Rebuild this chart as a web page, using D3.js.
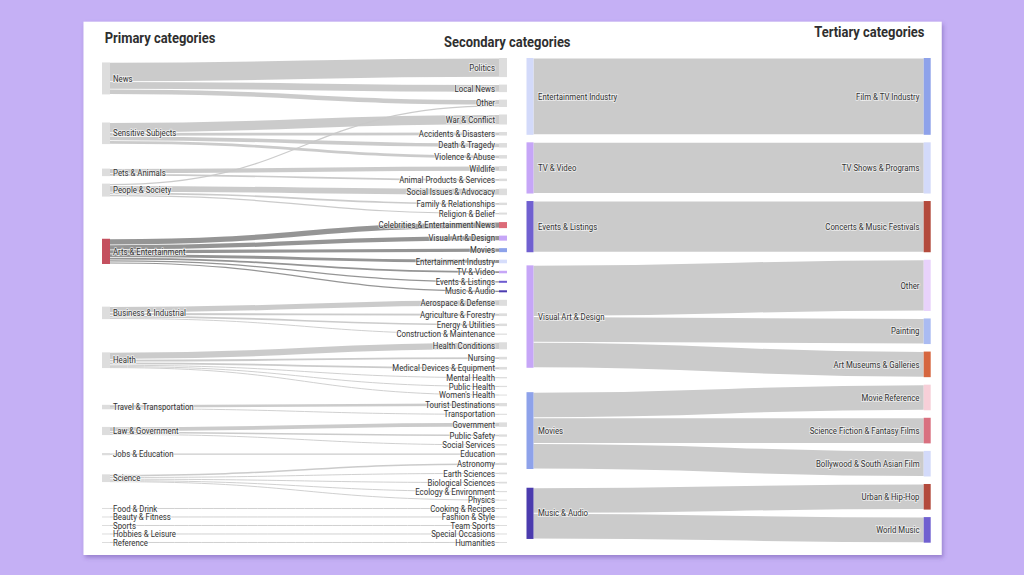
<!DOCTYPE html>
<html><head><meta charset="utf-8">
<script src="https://cdn.jsdelivr.net/npm/d3@7"></script>
<style>
html,body{margin:0;padding:0;background:#c5b0f5;}
svg{display:block;}
text{font-family:Roboto,"Noto Sans",sans-serif;}
</style></head><body>
<svg id="chart" width="1024" height="575"></svg>
<script>
// ---------------- DATA ----------------
const titles = ["Primary categories", "Secondary categories", "Tertiary categories"];

const primaryCategories = ["News","Sensitive Subjects","Pets & Animals","People & Society","Arts & Entertainment",
  "Business & Industrial","Health","Travel & Transportation","Law & Government","Jobs & Education","Science",
  "Food & Drink","Beauty & Fitness","Sports","Hobbies & Leisure","Reference"];

const secondaryCategories = ["Politics","Local News","Other","War & Conflict","Accidents & Disasters","Death & Tragedy",
  "Violence & Abuse","Wildlife","Animal Products & Services","Social Issues & Advocacy","Family & Relationships",
  "Religion & Belief","Celebrities & Entertainment News","Visual Art & Design","Movies","Entertainment Industry",
  "TV & Video","Events & Listings","Music & Audio","Aerospace & Defense","Agriculture & Forestry","Energy & Utilities",
  "Construction & Maintenance","Health Conditions","Nursing","Medical Devices & Equipment","Mental Health",
  "Public Health","Women's Health","Tourist Destinations","Transportation","Government","Public Safety",
  "Social Services","Education","Astronomy","Earth Sciences","Biological Sciences","Ecology & Environment",
  "Physics","Cooking & Recipes","Fashion & Style","Team Sports","Special Occasions","Humanities"];

// [primary, secondary, value]
const primaryToSecondary = [
  ["News","Politics",19],["News","Local News",7.5],["News","Other",5.3],
  ["Sensitive Subjects","War & Conflict",10],["Sensitive Subjects","Accidents & Disasters",3.5],
  ["Sensitive Subjects","Death & Tragedy",4.5],["Sensitive Subjects","Violence & Abuse",3.5],
  ["Pets & Animals","Wildlife",5],["Pets & Animals","Animal Products & Services",2.5],
  ["People & Society","Other",2],["People & Society","Social Issues & Advocacy",6.5],
  ["People & Society","Family & Relationships",2.4],["People & Society","Religion & Belief",2],
  ["Arts & Entertainment","Celebrities & Entertainment News",6],["Arts & Entertainment","Visual Art & Design",5],
  ["Arts & Entertainment","Movies",4],["Arts & Entertainment","Entertainment Industry",3.6],
  ["Arts & Entertainment","TV & Video",2.5],["Arts & Entertainment","Events & Listings",2],
  ["Arts & Entertainment","Music & Audio",2],
  ["Business & Industrial","Aerospace & Defense",6],["Business & Industrial","Agriculture & Forestry",2.7],
  ["Business & Industrial","Energy & Utilities",2.5],["Business & Industrial","Construction & Maintenance",1.2],
  ["Health","Health Conditions",7],["Health","Nursing",2.6],["Health","Medical Devices & Equipment",2.6],
  ["Health","Mental Health",1.3],["Health","Public Health",1.2],["Health","Women's Health",0.9],
  ["Travel & Transportation","Tourist Destinations",3.3],["Travel & Transportation","Transportation",1.1],
  ["Law & Government","Government",4.5],["Law & Government","Public Safety",2.3],["Law & Government","Social Services",1.3],
  ["Jobs & Education","Education",2.2],
  ["Science","Astronomy",2.3],["Science","Earth Sciences",1.7],["Science","Biological Sciences",1.7],
  ["Science","Ecology & Environment",1.2],["Science","Physics",0.8],
  ["Food & Drink","Cooking & Recipes",1],["Beauty & Fitness","Fashion & Style",1],["Sports","Team Sports",1],
  ["Hobbies & Leisure","Special Occasions",1],["Reference","Humanities",1]
];

const focusCategories = ["Entertainment Industry","TV & Video","Events & Listings","Visual Art & Design","Movies","Music & Audio"];

const tertiaryCategories = ["Film & TV Industry","TV Shows & Programs","Concerts & Music Festivals","Other","Painting",
  "Art Museums & Galleries","Movie Reference","Science Fiction & Fantasy Films","Bollywood & South Asian Film",
  "Urban & Hip-Hop","World Music"];

// [secondary, tertiary, value]
const secondaryToTertiary = [
  ["Entertainment Industry","Film & TV Industry",3],
  ["TV & Video","TV Shows & Programs",2],
  ["Events & Listings","Concerts & Music Festivals",2],
  ["Visual Art & Design","Other",2],["Visual Art & Design","Painting",1],["Visual Art & Design","Art Museums & Galleries",1],
  ["Movies","Movie Reference",1],["Movies","Science Fiction & Fantasy Films",1],["Movies","Bollywood & South Asian Film",1],
  ["Music & Audio","Urban & Hip-Hop",1],["Music & Audio","World Music",1]
];

// ---------------- STYLE ----------------
const highlightSource = "Arts & Entertainment";
const leftColors = {
  "Arts & Entertainment":"#c4505f","Celebrities & Entertainment News":"#dc6b78","Visual Art & Design":"#c6a6f7",
  "Movies":"#8da2ea","Entertainment Industry":"#d6ddfb","TV & Video":"#c6a6f7","Events & Listings":"#6e5bd0",
  "Music & Audio":"#4b3bb0"
};
const rightColorsL = {"Entertainment Industry":"#d3dafa","TV & Video":"#c6a6f7","Events & Listings":"#7060d0",
  "Visual Art & Design":"#c6a6f7","Movies":"#8ea2ea","Music & Audio":"#4b3bae"};
const rightColorsR = {"Film & TV Industry":"#8ea2ea","TV Shows & Programs":"#d3dafa","Concerts & Music Festivals":"#b34a3c",
  "Other":"#e8d2fb","Painting":"#aabbf2","Art Museums & Galleries":"#d6663f","Movie Reference":"#f7cfd8",
  "Science Fiction & Fantasy Films":"#d9707f","Bollywood & South Asian Film":"#d3dafa","Urban & Hip-Hop":"#b34a3c",
  "World Music":"#7060d0"};

// ---------------- LAYOUT ----------------
function layoutSankey(leftNames, rightNames, links, o) {
  const L = leftNames.map(n => ({name:n, out:[], inn:[]}));
  const R = rightNames.map(n => ({name:n, out:[], inn:[]}));
  const mL = new Map(L.map(d => [d.name, d])), mR = new Map(R.map(d => [d.name, d]));
  const ls = links.map(([s,t,v]) => {
    const l = {source:mL.get(s), target:mR.get(t), value:v};
    l.source.out.push(l); l.target.inn.push(l); return l;
  });
  L.forEach(n => n.value = d3.sum(n.out, l => l.value));
  R.forEach(n => n.value = d3.sum(n.inn, l => l.value));
  const packLeft = o.packed === "left";
  const packed = packLeft ? L : R, relaxed = packLeft ? R : L;
  const total = d3.sum(packed, d => d.value);
  const ky = d3.scaleLinear().domain([0, total]).range([0, (o.y1 - o.y0) - (packed.length - 1) * o.pad]);
  let y = o.y0;
  packed.forEach(n => { n.y0 = y; n.y1 = y + ky(n.value); y = n.y1 + o.pad; });
  relaxed.forEach(n => {
    const lk = packLeft ? n.inn : n.out;
    const other = l => packLeft ? l.source : l.target;
    const c = d3.sum(lk, l => l.value * (other(l).y0 + other(l).y1) / 2) / d3.sum(lk, l => l.value);
    const h = ky(n.value); n.y0 = c - h / 2; n.y1 = c + h / 2;
  });
  const sorted = relaxed.slice().sort((a, b) => (a.y0 + a.y1) - (b.y0 + b.y1));
  let yy = o.y0;
  sorted.forEach(n => { const dy = yy - n.y0; if (dy > 0) { n.y0 += dy; n.y1 += dy; } yy = n.y1 + o.pad; });
  let yb = o.y1;
  for (let i = sorted.length - 1; i >= 0; i--) {
    const n = sorted[i]; const dy = n.y1 - yb; if (dy > 0) { n.y0 -= dy; n.y1 -= dy; } yb = n.y0 - o.pad;
  }
  L.forEach(n => { n.x0 = o.xL; n.x1 = o.xL + o.nodeW; });
  R.forEach(n => { n.x0 = o.xR; n.x1 = o.xR + o.nodeW; });
  ls.forEach(l => l.width = ky(l.value));
  L.forEach(n => { n.out.sort((a, b) => a.target.y0 - b.target.y0); let y = n.y0;
    n.out.forEach(l => { l.y0 = y + l.width / 2; y += l.width; }); });
  R.forEach(n => { n.inn.sort((a, b) => a.source.y0 - b.source.y0); let y = n.y0;
    n.inn.forEach(l => { l.y1 = y + l.width / 2; y += l.width; }); });
  return {L, R, links: ls};
}

// ---------------- DRAW ----------------
const svg = d3.select("#chart");
const defs = svg.append("defs");
const f = defs.append("filter").attr("id", "shadow").attr("x", "-5%").attr("y", "-5%").attr("width", "110%").attr("height", "115%");
f.append("feDropShadow").attr("dx", 1.5).attr("dy", 2.5).attr("stdDeviation", 2).attr("flood-color", "#5a3f9a").attr("flood-opacity", 0.45);

svg.append("rect").attr("x", 83.5).attr("y", 21.7).attr("width", 858.2).attr("height", 533.3)
  .attr("fill", "#ffffff").attr("filter", "url(#shadow)");

const linkGen = d3.linkHorizontal().x(d => d[0]).y(d => d[1]);

function drawPanel(g, lay, opt) {
  g.append("g").selectAll("path").data(lay.links).join("path")
    .attr("d", l => linkGen({source:[l.source.x1, l.y0], target:[l.target.x0, l.y1]}))
    .attr("fill", "none")
    .attr("stroke", l => opt.linkColor(l))
    .attr("stroke-opacity", opt.linkOpacity)
    .attr("stroke-width", l => Math.max(opt.minW, l.width - opt.gap));
  const nodes = lay.L.concat(lay.R);
  g.append("g").selectAll("rect").data(nodes).join("rect")
    .attr("x", d => d.x0).attr("y", d => d.y0)
    .attr("width", d => d.x1 - d.x0).attr("height", d => Math.max(1, d.y1 - d.y0))
    .attr("fill", d => opt.nodeColor(d));
  const lab = g.append("g").attr("font-size", opt.fontSize).attr("fill", "#333333");
  [[lay.L, opt.labelL, "start"], [lay.R, opt.labelR, "end"]].forEach(([arr, x, anchor]) => {
    lab.append("g").selectAll("text").data(arr).join("text")
      .attr("transform", d => `translate(${x},${(d.y0 + d.y1) / 2}) scale(${opt.sx},1)`)
      .attr("dy", "0.35em").attr("text-anchor", anchor)
      .attr("stroke", "rgba(255,255,255,0.55)").attr("stroke-width", 2).attr("paint-order", "stroke")
      .text(d => d.name);
  });
}

const leftLay = layoutSankey(primaryCategories, secondaryCategories, primaryToSecondary,
  {xL:102, xR:499, nodeW:8, y0:58, y1:543, pad:7.5, packed:"right"});
drawPanel(svg.append("g"), leftLay, {
  linkColor: l => l.source.name === highlightSource ? "#8f8f8f" : "#c8c8c8",
  linkOpacity: 0.95, gap: 0.8, minW: 0.9,
  nodeColor: d => leftColors[d.name] || "#dddddd",
  labelL: 113, labelR: 495, fontSize: 9, sx: 0.87
});

const rightLay = layoutSankey(focusCategories, tertiaryCategories, secondaryToTertiary,
  {xL:526.5, xR:923.7, nodeW:7, y0:58, y1:542.7, pad:7.5, packed:"right"});
drawPanel(svg.append("g"), rightLay, {
  linkColor: () => "#cbcbcb",
  linkOpacity: 1, gap: 1, minW: 1,
  nodeColor: d => (d.out.length ? rightColorsL[d.name] : rightColorsR[d.name]) || "#dddddd",
  labelL: 538, labelR: 919.5, fontSize: 9, sx: 0.87
});

// titles
const titlePos = [[104.7, 43.3, "start"], [444, 46.5, "start"], [924.5, 37, "end"]];
svg.append("g").selectAll("text").data(titles).join("text")
  .attr("transform", (d, i) => `translate(${titlePos[i][0]},${titlePos[i][1]}) scale(0.925,1)`)
  .attr("text-anchor", (d, i) => titlePos[i][2])
  .attr("font-size", 14).attr("font-weight", "bold").attr("fill", "#2f2f2f")
  .text(d => d);
</script>
</body></html>
